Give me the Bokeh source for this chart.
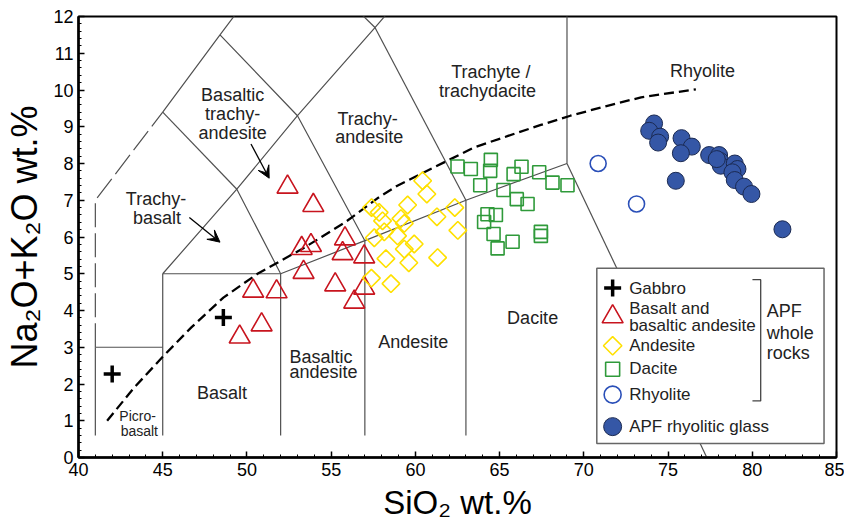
import numpy as np
from bokeh.plotting import figure
from bokeh.models import FixedTicker, Arrow, VeeHead, Range1d
from bokeh.core.properties import value
from bokeh.embed import file_html
from bokeh.resources import INLINE

FONT = "Liberation Sans"

# ---------------- data (SiO2 wt.%, Na2O+K2O wt.%) ----------------
gabbro_sio2 = [42.0, 48.6]
gabbro_alk = [2.27, 3.81]

basalt_sio2 = [52.41, 53.94, 53.25, 53.80, 55.82, 55.68, 56.96, 53.36, 55.24, 56.37,
               56.96, 50.37, 51.76, 50.87, 49.57]
basalt_alk = [7.36, 6.86, 5.69, 5.77, 5.95, 5.55, 5.46, 5.04, 4.70, 4.23,
              4.61, 4.53, 4.51, 3.61, 3.28]

andesite_sio2 = [60.43, 60.68, 59.54, 62.34, 57.40, 57.85, 58.05, 59.14, 59.34, 61.28,
                 58.15, 57.56, 58.94, 59.93, 59.34, 58.25, 59.61, 61.32, 62.52, 57.39, 58.55]
andesite_alk = [7.53, 7.17, 6.87, 6.80, 6.80, 6.67, 6.44, 6.50, 6.37, 6.55,
                6.14, 5.98, 6.03, 5.81, 5.67, 5.41, 5.30, 5.44, 6.18, 4.88, 4.73]

dacite_sio2 = [64.48, 64.44, 62.50, 63.29, 63.85, 65.83, 66.30, 67.35, 68.14, 69.03,
               65.23, 66.02, 66.66, 64.28, 64.78, 64.08, 64.64, 65.77, 64.88, 67.45, 67.45]
dacite_alk = [8.10, 7.80, 7.92, 7.85, 7.41, 7.71, 7.91, 7.76, 7.48, 7.41,
              7.28, 7.03, 6.90, 6.62, 6.60, 6.41, 6.08, 5.87, 5.69, 6.14, 6.03]

rhyolite_sio2 = [70.85, 73.13]
rhyolite_alk = [8.00, 6.90]

glass_sio2 = [74.17, 73.88, 74.53, 74.41, 75.80, 76.41, 75.76, 77.44, 78.03, 78.09,
              78.13, 78.96, 79.12, 78.82, 78.96, 79.51, 79.95, 75.46, 81.79, 77.89]
glass_alk = [9.09, 8.89, 8.73, 8.57, 8.69, 8.46, 8.28, 8.23, 8.23, 8.07,
             7.94, 8.00, 7.85, 7.76, 7.55, 7.37, 7.17, 7.53, 6.21, 8.12]

# alkaline / subalkaline dividing curve
divide_sio2 = [41.7, 43.3, 45.0, 46.7, 48.6, 50.6, 53.4, 55.8, 57.8, 58.9, 61.7, 63.5,
               65.5, 67.45, 69.2, 71.4, 73.4, 76.65]
divide_alk = [1.0, 1.9, 2.74, 3.54, 4.35, 4.99, 5.71, 6.39, 7.07, 7.39, 8.03, 8.44,
              8.75, 9.05, 9.30, 9.57, 9.80, 10.02]

# TAS field boundaries (Le Bas et al.)
field_xs = [[41, 41], [41, 45], [45, 45], [45, 52], [52, 52], [52, 57, 63, 69],
            [57, 57], [63, 63], [69, 77.3], [69, 69], [45, 49.4, 52],
            [49.4, 53, 57.6, 61], [45, 49.4], [48.4, 53, 57], [57.6, 63],
            [45, 48.4, 52.5], [52.5, 57.6]]
field_ys = [[0.6, 3], [3, 3], [0.6, 5], [5, 5], [0.6, 5], [5, 5.9, 7, 8],
            [0.6, 5.9], [0.6, 7], [8, 0], [8, 13], [5, 7.3, 5],
            [7.3, 9.3, 11.7, 13.5], [9.4, 7.3], [11.5, 9.3, 5.9], [11.7, 7],
            [9.4, 11.5, 14], [14, 11.7]]
dashed_field_x = [41, 41, 45]
dashed_field_y = [3, 7, 9.4]

field_names = ["Basaltic", "trachy-", "andesite", "Trachy-", "basalt", "Trachy-", "andesite",
               "Trachyte /", "trachydacite", "Rhyolite", "Basaltic", "andesite", "Andesite",
               "Basalt", "Dacite"]
field_name_x = [49.15, 49.15, 49.15, 44.60, 44.66, 57.16, 57.26, 64.48, 64.28, 77.04,
                54.39, 54.55, 59.87, 48.52, 66.96]
field_name_y = [9.86, 9.34, 8.84, 7.03, 6.53, 9.21, 8.71, 10.50, 9.98, 10.52,
                2.74, 2.34, 3.15, 1.75, 3.79]
small_names = ["Picro-", "basalt"]
small_name_x = [43.51, 43.61]
small_name_y = [1.13, 0.73]

x_ticks = [40, 45, 50, 55, 60, 65, 70, 75, 80, 85]
y_ticks = list(range(0, 13))

RED = "#c8141e"
YEL = "#ffe000"
GRN = "#2f9a3a"
BLU = "#2a4fb8"
GLASS = "#3557a6"
LINE = "#505050"

p = figure(frame_width=758, frame_height=441, output_backend="svg", toolbar_location=None,
           x_range=Range1d(40, 85), y_range=Range1d(0, 12),
           min_border_left=78, min_border_top=16, min_border_right=8, min_border_bottom=56,
           background_fill_color="white", border_fill_color="white")
p.xgrid.visible = False
p.ygrid.visible = False
p.outline_line_color = "black"
p.outline_line_width = 2

for ax in (p.xaxis[0], p.yaxis[0]):
    ax.axis_line_width = 2.5
    ax.axis_line_color = "black"
    ax.major_tick_in = 6
    ax.major_tick_out = 0
    ax.minor_tick_in = 3
    ax.minor_tick_out = 0
    ax.major_tick_line_width = 1.5
    ax.minor_tick_line_width = 1
    ax.major_label_text_font = FONT
    ax.major_label_text_font_size = "18px"
    ax.major_label_text_color = "black"
    ax.axis_label_text_font = FONT
    ax.axis_label_text_font_style = "normal"
    ax.axis_label_text_color = "black"
    ax.major_label_standoff = 5

p.xaxis.axis_label_text_font_size = "33px"
p.yaxis.axis_label_text_font_size = "36px"
p.xaxis.ticker = FixedTicker(ticks=x_ticks, minor_ticks=list(range(40, 86)))
p.yaxis.ticker = FixedTicker(ticks=y_ticks, minor_ticks=[round(i * 0.2, 1) for i in range(61)])
p.xaxis.axis_label = "SiO₂ wt.%"
p.yaxis.axis_label = "Na₂O+K₂O wt.%"
p.xaxis.axis_label_standoff = 5
p.yaxis.axis_label_standoff = 5

# field boundaries
p.multi_line(field_xs, field_ys, line_color=LINE, line_width=1.2)
p.line(dashed_field_x, dashed_field_y, line_color=LINE, line_width=1.2, line_dash="24 6")
p.line(divide_sio2, divide_alk, line_color="black", line_width=2.3, line_dash="10 5")

# field names
p.text(field_name_x, field_name_y, text=field_names, text_font=value(FONT),
       text_font_size="18px", text_color="#222222", text_align="center", text_baseline="middle")
p.text(small_name_x, small_name_y, text=small_names, text_font=value(FONT),
       text_font_size="14px", text_color="#222222", text_align="center", text_baseline="middle")

# arrows
arrow_start_x = [50.24, 46.58]
arrow_start_y = [8.53, 6.53]
arrow_end_x = [51.32, 48.40]
arrow_end_y = [7.60, 5.86]
for xs, ys, xe, ye in zip(arrow_start_x, arrow_start_y, arrow_end_x, arrow_end_y):
    p.add_layout(Arrow(end=VeeHead(size=12, fill_color="black", line_color="black"),
                       x_start=xs, y_start=ys, x_end=xe, y_end=ye,
                       line_color="black", line_width=1.3))

# data points
p.scatter(gabbro_sio2, gabbro_alk, marker="cross", size=17, line_color="black", line_width=3.5)
p.scatter(basalt_sio2, basalt_alk, marker="triangle", size=21, fill_color=None,
          line_color=RED, line_width=1.6)
p.scatter(andesite_sio2, andesite_alk, marker="square", angle=np.pi / 4, size=12.5,
          fill_color=None, line_color=YEL, line_width=1.6)
p.scatter(dacite_sio2, dacite_alk, marker="square", size=13, fill_color=None,
          line_color=GRN, line_width=1.6)
p.scatter(rhyolite_sio2, rhyolite_alk, marker="circle", size=16, fill_color=None,
          line_color=BLU, line_width=1.6)
p.scatter(glass_sio2, glass_alk, marker="circle", size=17, fill_color=GLASS,
          line_color="#1b2a52", line_width=1)

# legend (drawn manually)
p.quad(left=[70.77], right=[84.26], top=[5.15], bottom=[0.38], fill_color="white",
       line_color="#666666", line_width=1.5)
lx = 71.71
p.scatter([lx], [4.61], marker="cross", size=17, line_color="black", line_width=3.5)
p.scatter([lx], [3.83], marker="triangle", size=21, fill_color=None, line_color=RED, line_width=1.6)
p.scatter([lx], [3.04], marker="square", angle=np.pi / 4, size=13, fill_color=None,
          line_color=YEL, line_width=1.6)
p.scatter([lx], [2.40], marker="square", size=14, fill_color=None, line_color=GRN, line_width=1.6)
p.scatter([lx], [1.71], marker="circle", size=17, fill_color=None, line_color=BLU, line_width=1.6)
p.scatter([lx], [0.84], marker="circle", size=18, fill_color=GLASS, line_color="#1b2a52", line_width=1)
legend_texts = ["Gabbro", "Basalt and", "basaltic andesite", "Andesite", "Dacite", "Rhyolite",
                "APF rhyolitic glass"]
legend_text_y = [4.61, 4.05, 3.58, 3.04, 2.41, 1.71, 0.84]
p.text([72.69] * len(legend_texts), legend_text_y, text=legend_texts, text_font=value(FONT),
       text_font_size="17px", text_color="#222222", text_align="left", text_baseline="middle")
p.line([80.01, 80.50, 80.50, 80.01], [4.84, 4.84, 1.54, 1.54], line_color="#444444", line_width=1.3)
p.text([80.86] * 3, [3.99, 3.40, 2.83], text=["APF", "whole", "rocks"], text_font=value(FONT),
       text_font_size="18px", text_color="#222222", text_align="left", text_baseline="middle")

open("out.html", "w").write(file_html(p, INLINE))
